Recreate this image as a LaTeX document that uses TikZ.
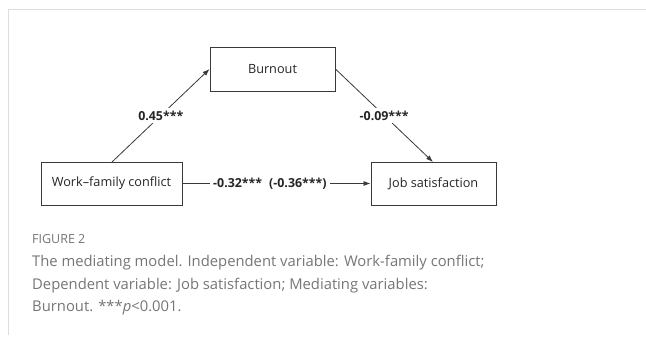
\documentclass[tikz,border=0pt]{standalone}
\usepackage{fontspec}
\setmainfont{Open Sans}
\usetikzlibrary{arrows.meta}
\definecolor{boxline}{HTML}{3A3A3A}
\definecolor{captext}{HTML}{767676}
\definecolor{frameline}{HTML}{DDDDDD}
\begin{document}
\begin{tikzpicture}[x=1pt,y=-1pt,
  varbox/.style={draw=boxline,line width=0.9pt,minimum height=44pt,inner sep=0pt,font=\fontsize{12.7}{14}\selectfont,text=black!85},
  conn/.style={draw=boxline,line width=0.8pt,-{Latex[length=7pt,width=5pt]}},
  coef/.style={fill=white,inner sep=3pt,font=\bfseries\fontsize{12.4}{14}\selectfont,text=black!85},
  captxt/.style={anchor=west,inner sep=0pt,text=captext}]
\useasboundingbox (0,0) rectangle (646,345);
\fill[white] (0,0) rectangle (646,345);
\draw[frameline,line width=1pt] (646,10) -- (8,10) -- (8,335);
\node[varbox,minimum width=125pt] (burn) at (272.5,69) {Burnout};
\node[varbox,minimum width=141pt,minimum height=43pt] (wfc) at (111.5,183.5) {Work–family conflict};
\node[varbox,minimum width=125pt,minimum height=43pt] (job) at (433.5,183.5) {Job satisfaction};
\coordinate (wfcTop) at (112,162);
\coordinate (jobTop) at (433,162);
\draw[conn] (wfcTop) -- node[coef,pos=0.5] {0.45***} (burn.west);
\draw[conn] (burn.east) -- node[coef,pos=0.5] {-0.09***} (jobTop);
\draw[conn] (wfc.east) -- node[coef,pos=0.465] {-0.32***\hspace{7pt}(-0.36***)} (job.west);
\node[captxt,font=\fontsize{12.5}{14}\selectfont] (fig) at (32,239) {FIGURE 2};
\node[captxt,font=\fontsize{14.8}{16}\selectfont] (c1) at (32,263) {The mediating model. Independent variable: Work-family conflict;};
\node[captxt,font=\fontsize{14.8}{16}\selectfont] (c2) at (32,285.5) {Dependent variable: Job satisfaction; Mediating variables:};
\node[captxt,font=\fontsize{14.8}{16}\selectfont] (c3) at (32,308) {Burnout. ***\textit{p}<0.001.};
\end{tikzpicture}
\end{document}
